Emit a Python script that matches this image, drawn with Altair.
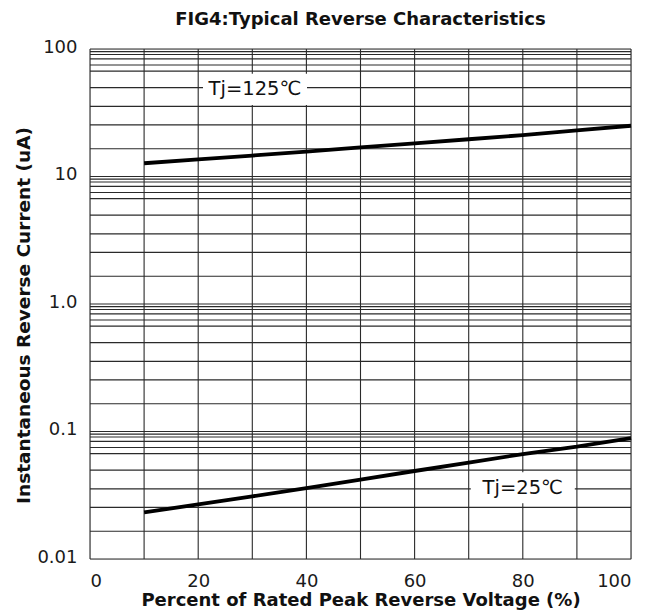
import altair as alt
import pandas as pd

# ---- data ----
x_pct = [10, 20, 30, 40, 50, 60, 70, 80, 90, 100]
i_tj125 = [12.7, 13.6, 14.6, 15.7, 16.9, 18.2, 19.6, 21.1, 23.0, 25.0]
i_tj25 = [0.0232, 0.0268, 0.031, 0.036, 0.042, 0.049, 0.057, 0.0665, 0.076, 0.0888]

x_ticks = [0, 20, 40, 60, 80, 100]
x_grid = [0, 10, 20, 30, 40, 50, 60, 70, 80, 90, 100]
y_ticks = [0.01, 0.1, 1, 10, 100]
y_tick_labels = ["0.01", "0.1", "1.0", "10", "100"]
decades = [0.01, 0.1, 1, 10]
grid_mantissas = [1.65, 2.54, 3.55, 4.98, 6.71, 7.5, 8.36, 9.06, 9.53]

label_text = ["Tj=125\u2103", "Tj=25\u2103"]
label_x = [30.5, 80.0]
label_y = [48.3, 0.0362]

FONT = "DejaVu Sans"

# ---- tables ----
curves = pd.DataFrame({
    "x": x_pct * 2,
    "y": i_tj125 + i_tj25,
    "series": ["125"] * len(x_pct) + ["25"] * len(x_pct),
})
vgrid = pd.DataFrame({"gx": x_grid})
y_grid = sorted(set(decades + [100] + [round(m * d, 6) for d in decades for m in grid_mantissas]))
hgrid = pd.DataFrame({"gy": y_grid})
labels = pd.DataFrame({"lx": label_x, "ly": label_y, "txt": label_text})

# label expression for y axis
expr = ""
for i, (v, t) in enumerate(zip(y_ticks, y_tick_labels)):
    if i < len(y_ticks) - 1:
        mid = (v * y_ticks[i + 1]) ** 0.5
        expr += f"datum.value < {mid} ? '{t}' : "
    else:
        expr += f"'{t}'"

xs = alt.Scale(domain=[0, 100], nice=False, zero=False)
ys = alt.Scale(type="log", domain=[0.01, 100], nice=False)

x_axis = alt.Axis(
    values=x_ticks, grid=False, ticks=False, domain=False,
    labelFont=FONT, labelFontSize=18, labelColor="#1a1a1a", labelPadding=13,
    title="Percent of Rated Peak Reverse Voltage  (%)",
    titleFont=FONT, titleFontSize=18, titleFontWeight="bold", titleColor="#111",
    titlePadding=1,
)
y_axis = alt.Axis(
    values=y_ticks, grid=False, ticks=False, domain=False,
    labelExpr=expr, labelFont=FONT, labelFontSize=18, labelColor="#1a1a1a",
    labelPadding=13, labelOffset=-2,
    title="Instantaneous Reverse Current (uA)",
    titleFont=FONT, titleFontSize=18.5, titleFontWeight="bold", titleColor="#111",
    titleX=-67, titleY=266, titleAngle=270, titleBaseline="middle", titleAlign="center",
)

vg = alt.Chart(vgrid).mark_rule(color="#2a2a2a", strokeWidth=1.1).encode(
    x=alt.X("gx:Q", scale=xs, axis=x_axis)
)
hg = alt.Chart(hgrid).mark_rule(color="#2a2a2a", strokeWidth=1.1).encode(
    y=alt.Y("gy:Q", scale=ys, axis=y_axis)
)

box_shape = "M-1,-0.3L1,-0.3L1,0.3L-1,0.3Z"
boxes = alt.Chart(labels).mark_point(
    shape=box_shape, size=104 * 104, filled=True, fill="white", opacity=1, strokeWidth=0
).encode(
    x=alt.X("lx:Q", scale=xs, axis=x_axis),
    y=alt.Y("ly:Q", scale=ys, axis=y_axis),
)
texts = alt.Chart(labels).mark_text(
    font=FONT, fontSize=19.5, color="#111", align="center", baseline="middle"
).encode(
    x=alt.X("lx:Q", scale=xs, axis=x_axis),
    y=alt.Y("ly:Q", scale=ys, axis=y_axis),
    text="txt:N",
)
lines = alt.Chart(curves).mark_line(color="black", strokeWidth=3.8, strokeCap="butt").encode(
    x=alt.X("x:Q", scale=xs, axis=x_axis),
    y=alt.Y("y:Q", scale=ys, axis=y_axis),
    detail="series:N",
)

chart = alt.layer(vg, hg, boxes, texts, lines).properties(
    width=541,
    height=510,
    autosize=alt.AutoSizeParams(type="none"),
    padding={"left": 82, "top": 41, "right": 25, "bottom": 57},
    title=alt.TitleParams(
        "FIG4:Typical Reverse Characteristics",
        font=FONT, fontSize=18, fontWeight="bold", color="#111",
        anchor="middle", offset=9,
    ),
).configure_view(stroke="#111", strokeWidth=1.5).configure(background="white")

chart.save("out.html", embed_options={"renderer": "svg", "actions": False})
